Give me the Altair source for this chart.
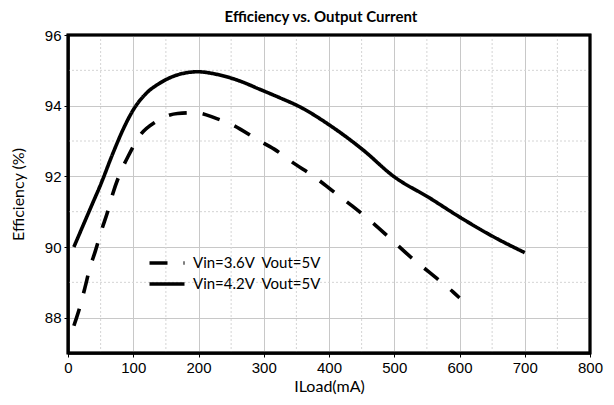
import altair as alt
import pandas as pd

# Vin=3.6V series
load_36 = [9, 18, 26, 33, 42, 51, 61, 69, 79, 92, 110, 135, 168, 196, 227, 255, 290, 316, 347, 375, 408, 435, 468, 495, 528, 554, 590, 600]
eff_36 = [87.77, 88.29, 88.85, 89.37, 89.89, 90.45, 91.01, 91.53, 92.05, 92.56, 93.15, 93.55, 93.78, 93.80, 93.64, 93.43, 93.04, 92.77, 92.36, 92.02, 91.55, 91.17, 90.67, 90.22, 89.67, 89.28, 88.73, 88.56]

# Vin=4.2V series
load_42 = [9, 38, 49, 69, 84, 100, 120, 140, 166, 199, 227, 263, 293, 325, 355, 400, 452, 499, 554, 600, 650, 700]
eff_42 = [90.0, 91.25, 91.72, 92.66, 93.31, 93.88, 94.35, 94.63, 94.86, 94.96, 94.89, 94.70, 94.47, 94.22, 93.97, 93.46, 92.75, 92.0, 91.39, 90.85, 90.31, 89.84]

series_names = ["Vin=3.6V\u00a0\u00a0Vout=5V", "Vin=4.2V\u00a0\u00a0Vout=5V"]

x_minor = [50, 150, 250, 350, 450, 550, 650, 750]
y_minor = [87, 89, 91, 93, 95]
x_ticks = [0, 100, 200, 300, 400, 500, 600, 700, 800]
y_ticks = [88, 90, 92, 94, 96]
x_range = [0, 800]
y_range = [87, 96]

rows = []
for i, (a, b) in enumerate(zip(load_36, eff_36)):
    rows.append({"ILoad": a, "Eff": b, "Series": series_names[0], "order": i})
for i, (a, b) in enumerate(zip(load_42, eff_42)):
    rows.append({"ILoad": a, "Eff": b, "Series": series_names[1], "order": i})
df = pd.DataFrame(rows)

xscale = alt.Scale(domain=x_range, nice=False)
yscale = alt.Scale(domain=y_range, nice=False, zero=False)

FONT_T = "Lato"
FONT_N = "Liberation Sans"

xaxis = alt.Axis(values=x_ticks, title="ILoad(mA)", grid=True, gridColor="#c8c8c8",
                 gridWidth=1, domainColor="black", domainWidth=2.5, labelFlush=False,
                 tickColor="black", tickSize=4, labelFont=FONT_N, labelFontSize=15,
                 labelColor="black", labelPadding=3, titleFont=FONT_T,
                 titleFontSize=16, titleFontWeight="normal", titleColor="black",
                 titlePadding=3)
yaxis = alt.Axis(values=y_ticks, title="Efficiency (%)", grid=True, gridColor="#c8c8c8",
                 gridWidth=1, domainColor="black", domainWidth=2.5, labelFlush=False,
                 tickColor="black", tickSize=4, labelFont=FONT_N, labelFontSize=15,
                 labelColor="black", labelPadding=3, titleFont=FONT_T,
                 titleFontSize=16, titleFontWeight="normal", titleColor="black",
                 titlePadding=18)

vminor = alt.Chart(pd.DataFrame({"ILoad": x_minor})).mark_rule(
    color="#d4d4d4", strokeWidth=1, strokeDash=[2, 2]
).encode(x=alt.X("ILoad:Q", scale=xscale, axis=xaxis))

hminor = alt.Chart(pd.DataFrame({"Eff": y_minor})).mark_rule(
    color="#d4d4d4", strokeWidth=1, strokeDash=[2, 2]
).encode(y=alt.Y("Eff:Q", scale=yscale, axis=yaxis))

lines = alt.Chart(df).mark_line(color="black", strokeWidth=3.6, interpolate="monotone").encode(
    x=alt.X("ILoad:Q", scale=xscale, axis=xaxis),
    y=alt.Y("Eff:Q", scale=yscale, axis=yaxis),
    strokeDash=alt.StrokeDash("Series:N",
                              scale=alt.Scale(domain=series_names, range=[[18, 16], [1, 0]]),
                              legend=alt.Legend(title=None, orient="none", legendX=87, legendY=216,
                                                symbolType="M-1.75,0H1.75", symbolSize=400,
                                                symbolStrokeWidth=3.6, symbolStrokeColor="black",
                                                labelFont=FONT_T, labelFontSize=15,
                                                labelColor="black", rowPadding=1,
                                                labelOffset=14)),
    order="order:Q",
)

frame_df = pd.DataFrame({"x0": [x_range[0]], "x1": [x_range[1]],
                         "y0": [y_range[0]], "y1": [y_range[1]]})
frame = alt.Chart(frame_df).mark_rect(
    fill="white", fillOpacity=0, stroke="#000000", strokeWidth=3, clip=False
).encode(
    x=alt.X("x0:Q", scale=xscale, axis=xaxis), x2="x1:Q",
    y=alt.Y("y0:Q", scale=yscale, axis=yaxis), y2="y1:Q",
)

chart = alt.layer(vminor, hminor, lines, frame).properties(
    width=522,
    height=318,
    padding={"left": 60, "top": 27, "right": 16, "bottom": 44},
    autosize="none",
    title=alt.TitleParams("Efficiency vs. Output Current", font=FONT_T, fontSize=15,
                          fontWeight="bold", color="black", anchor="middle", dx=-8, offset=3),
).configure(background="white", view=alt.ViewConfig(stroke="black", strokeWidth=2.5))

chart.save("out.html", embed_options={"renderer": "svg", "actions": False})
